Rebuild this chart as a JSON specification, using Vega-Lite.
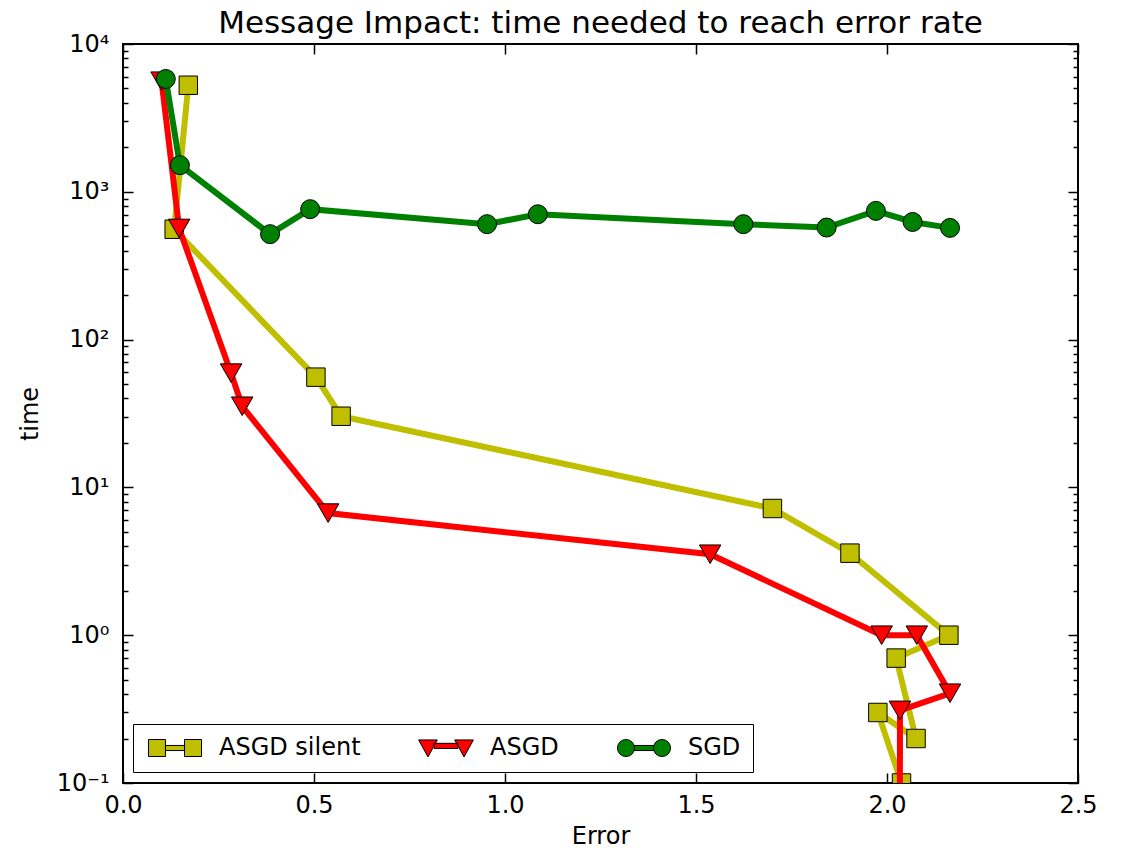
{
  "$schema": "https://vega.github.io/schema/vega-lite/v6.json",
  "width": 955,
  "height": 739,
  "autosize": {"type": "none"},
  "padding": {"left": 123, "top": 44, "right": 47, "bottom": 69},
  "background": "white",
  "title": {"text": "Message Impact: time needed to reach error rate", "fontSize": 31, "font": "DejaVu Sans", "fontWeight": "normal", "anchor": "middle", "frame": "group", "offset": -8, "color": "black"},
  "config": {
    "view": {"stroke": "black", "strokeWidth": 2},
    "font": "DejaVu Sans",
    "axis": {"grid": false, "domain": false, "tickColor": "black", "labelColor": "black", "titleColor": "black", "labelFont": "DejaVu Sans", "titleFont": "DejaVu Sans", "titleFontWeight": "normal", "labelFontSize": 24, "titleFontSize": 24, "labelFlush": false, "labelOverlap": false, "tickWidth": 1.5}
  },
  "data": {"values": [
    {"series": "ASGD silent", "ord": 1, "error": 0.171, "time": 5260},
    {"series": "ASGD silent", "ord": 2, "error": 0.134, "time": 558},
    {"series": "ASGD silent", "ord": 3, "error": 0.505, "time": 55.7},
    {"series": "ASGD silent", "ord": 4, "error": 0.571, "time": 30.3},
    {"series": "ASGD silent", "ord": 5, "error": 1.70, "time": 7.2},
    {"series": "ASGD silent", "ord": 6, "error": 1.903, "time": 3.59},
    {"series": "ASGD silent", "ord": 7, "error": 2.162, "time": 1.0},
    {"series": "ASGD silent", "ord": 8, "error": 2.024, "time": 0.70},
    {"series": "ASGD silent", "ord": 9, "error": 2.076, "time": 0.20},
    {"series": "ASGD silent", "ord": 10, "error": 1.976, "time": 0.30},
    {"series": "ASGD silent", "ord": 11, "error": 2.038, "time": 0.10},
    {"series": "ASGD", "ord": 1, "error": 0.101, "time": 5600},
    {"series": "ASGD", "ord": 2, "error": 0.147, "time": 565},
    {"series": "ASGD", "ord": 3, "error": 0.283, "time": 59.3},
    {"series": "ASGD", "ord": 4, "error": 0.312, "time": 35.4},
    {"series": "ASGD", "ord": 5, "error": 0.537, "time": 6.7},
    {"series": "ASGD", "ord": 6, "error": 1.537, "time": 3.53},
    {"series": "ASGD", "ord": 7, "error": 1.986, "time": 1.0},
    {"series": "ASGD", "ord": 8, "error": 2.078, "time": 1.0},
    {"series": "ASGD", "ord": 9, "error": 2.165, "time": 0.405},
    {"series": "ASGD", "ord": 10, "error": 2.034, "time": 0.31},
    {"series": "ASGD", "ord": 11, "error": 2.033, "time": 0.01},
    {"series": "SGD", "ord": 1, "error": 0.112, "time": 5800},
    {"series": "SGD", "ord": 2, "error": 0.149, "time": 1514},
    {"series": "SGD", "ord": 3, "error": 0.385, "time": 517},
    {"series": "SGD", "ord": 4, "error": 0.49, "time": 763},
    {"series": "SGD", "ord": 5, "error": 0.953, "time": 604},
    {"series": "SGD", "ord": 6, "error": 1.086, "time": 705},
    {"series": "SGD", "ord": 7, "error": 1.624, "time": 604},
    {"series": "SGD", "ord": 8, "error": 1.842, "time": 573},
    {"series": "SGD", "ord": 9, "error": 1.971, "time": 743},
    {"series": "SGD", "ord": 10, "error": 2.067, "time": 625},
    {"series": "SGD", "ord": 11, "error": 2.165, "time": 570}
  ]},
  "resolve": {"axis": {"x": "independent", "y": "independent"}},
  "layer": [
    {
      "transform": [{"filter": "datum.series === 'ASGD silent'"}],
      "mark": {"type": "line", "strokeWidth": 6, "clip": true, "color": "#bfbf00"},
      "encoding": {
        "x": {"field": "error", "type": "quantitative", "scale": {"domain": [0, 2.5], "nice": false, "zero": false},
          "axis": {"orient": "bottom", "values": [0, 0.5, 1, 1.5, 2, 2.5], "format": ".1f", "title": "Error", "tickSize": -10, "labelPadding": 20, "titlePadding": 7}},
        "y": {"field": "time", "type": "quantitative", "scale": {"type": "log", "domain": [0.1, 10000], "nice": false},
          "axis": {"orient": "left", "values": [0.1, 1, 10, 100, 1000, 10000], "labelExpr": "datum.value >= 1 ? '10' + ['⁰','¹','²','³','⁴'][round(log(datum.value)/LN10)] : '10⁻¹'", "title": "time", "tickSize": -10, "labelPadding": 24, "titlePadding": 14}},
        "order": {"field": "ord", "type": "quantitative"}
      }
    },
    {
      "transform": [{"filter": "datum.series === 'ASGD silent'"}],
      "mark": {"type": "point", "shape": "square", "filled": true, "opacity": 1, "size": 340, "stroke": "black", "strokeWidth": 1, "clip": true},
      "encoding": {
        "x": {"field": "error", "type": "quantitative", "axis": {"orient": "top", "values": [0, 0.5, 1, 1.5, 2, 2.5], "labels": false, "title": null, "tickSize": -10}},
        "y": {"field": "time", "type": "quantitative", "axis": {"orient": "right", "values": [0.1, 1, 10, 100, 1000, 10000], "labels": false, "title": null, "tickSize": -10}},
        "color": {"field": "series", "type": "nominal", "scale": {"domain": ["ASGD silent", "ASGD", "SGD"], "range": ["#bfbf00", "#ff0000", "#008000"]},
          "legend": {"title": null, "orient": "none", "legendX": 10, "legendY": 680, "direction": "horizontal", "labelFontSize": 24, "labelFont": "DejaVu Sans", "labelColor": "black", "symbolSize": 289, "symbolOffset": 18, "labelOffset": 32, "columnPadding": 55, "padding": 12, "strokeColor": "black", "fillColor": "white", "symbolStrokeColor": "black", "symbolStrokeWidth": 1, "symbolOpacity": 1,
            "encode": {"symbols": {"update": {
              "shape": {"signal": "datum.value === 'ASGD silent' ? 'M-3.12,-1L-1.12,-1L-1.12,1L-3.12,1Z M1.12,-1L3.12,-1L3.12,1L1.12,1Z M-1.12,-0.3L1.12,-0.3L1.12,0.3L-1.12,0.3Z' : datum.value === 'ASGD' ? 'M-3.22,-0.95L-1.02,-0.95L-2.12,1.05Z M1.02,-0.95L3.22,-0.95L2.12,1.05Z M-1.4,-0.55L1.4,-0.55L1.4,0.05L-1.4,0.05Z' : 'M-3.12,0A1,1,0,1,0,-1.12,0A1,1,0,1,0,-3.12,0Z M1.12,0A1,1,0,1,0,3.12,0A1,1,0,1,0,1.12,0Z M-1.12,-0.3L1.12,-0.3L1.12,0.3L-1.12,0.3Z'"},
              "fill": {"signal": "datum.value === 'ASGD silent' ? '#bfbf00' : datum.value === 'ASGD' ? '#ff0000' : '#008000'"},
              "stroke": {"value": "black"},
              "strokeWidth": {"value": 1},
              "opacity": {"value": 1}
            }}}}
        }
      }
    },
    {
      "transform": [{"filter": "datum.series === 'ASGD'"}],
      "mark": {"type": "line", "strokeWidth": 6, "clip": true, "color": "#ff0000"},
      "encoding": {
        "x": {"field": "error", "type": "quantitative", "axis": null},
        "y": {"field": "time", "type": "quantitative", "axis": {"orient": "left", "values": [0.2,0.3,0.4,0.5,0.6,0.7,0.8,0.9,2,3,4,5,6,7,8,9,20,30,40,50,60,70,80,90,200,300,400,500,600,700,800,900,2000,3000,4000,5000,6000,7000,8000,9000], "labels": false, "title": null, "tickSize": -5}},
        "order": {"field": "ord", "type": "quantitative"}
      }
    },
    {
      "transform": [{"filter": "datum.series === 'ASGD'"}],
      "mark": {"type": "point", "shape": "triangle-down", "filled": true, "opacity": 1, "size": 460, "color": "#ff0000", "stroke": "black", "strokeWidth": 1, "clip": true},
      "encoding": {
        "x": {"field": "error", "type": "quantitative", "axis": null},
        "y": {"field": "time", "type": "quantitative", "axis": {"orient": "right", "values": [0.2,0.3,0.4,0.5,0.6,0.7,0.8,0.9,2,3,4,5,6,7,8,9,20,30,40,50,60,70,80,90,200,300,400,500,600,700,800,900,2000,3000,4000,5000,6000,7000,8000,9000], "labels": false, "title": null, "tickSize": -5}}
      }
    },
    {
      "transform": [{"filter": "datum.series === 'SGD'"}],
      "mark": {"type": "line", "strokeWidth": 6, "clip": true, "color": "#008000"},
      "encoding": {
        "x": {"field": "error", "type": "quantitative", "axis": null},
        "y": {"field": "time", "type": "quantitative", "axis": null},
        "order": {"field": "ord", "type": "quantitative"}
      }
    },
    {
      "transform": [{"filter": "datum.series === 'SGD'"}],
      "mark": {"type": "point", "shape": "circle", "filled": true, "opacity": 1, "size": 360, "color": "#008000", "stroke": "black", "strokeWidth": 1, "clip": true},
      "encoding": {
        "x": {"field": "error", "type": "quantitative", "axis": null},
        "y": {"field": "time", "type": "quantitative", "axis": null}
      }
    }
  ]
}
